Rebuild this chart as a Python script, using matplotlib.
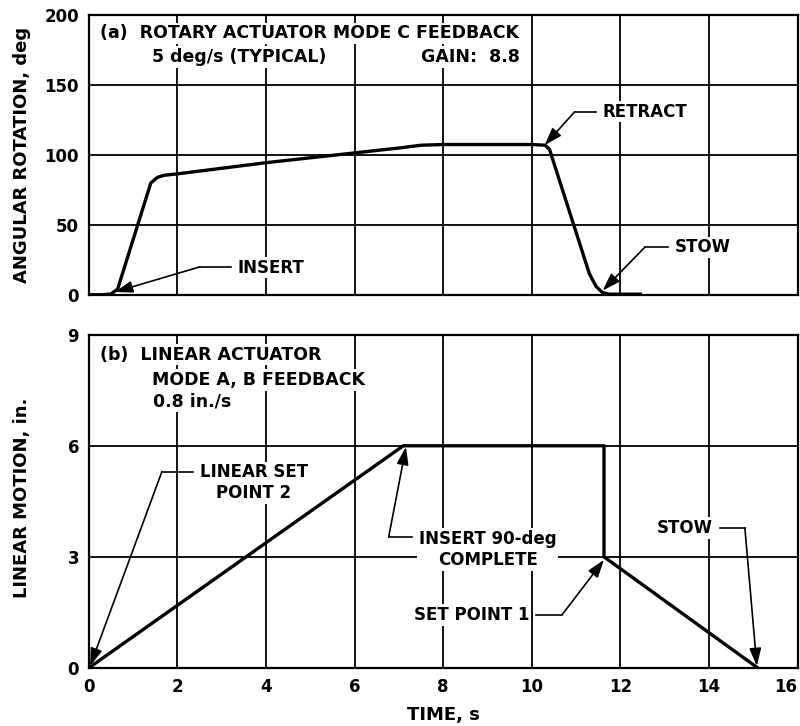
import matplotlib
matplotlib.use("Agg")
import matplotlib.pyplot as plt

# ---- data ----
# (a) rotary actuator, angle vs time
rot_time = [0, 0.3, 0.5, 0.65, 1.4, 1.55, 1.7, 2, 3, 4, 5, 6, 7, 7.5, 8, 9, 10,
            10.3, 10.4, 11.3, 11.45, 11.6, 11.75, 12.45]
rot_angle = [0, 0, 0.5, 4, 80, 84, 85.5, 86.5, 90.5, 94.5, 98, 101.5, 105, 107,
             107.5, 107.5, 107.5, 107, 104, 15, 6, 1.5, 0.4, 0.4]

# (b) linear actuator, stroke vs time
lin_time = [0, 7.1, 11.63, 11.63, 15.1]
lin_motion = [0, 6, 6, 3, 0]

x_ticks = [0, 2, 4, 6, 8, 10, 12, 14, 16]
rot_ticks = [0, 50, 100, 150, 200]
lin_ticks = [0, 3, 6, 9]

# callouts: label, text xy, elbow xy, arrow tip xy, text alignment
rot_notes = [
    ("INSERT", (3.35, 19.5), (2.51, 20), (0.59, 2), "left"),
    ("RETRACT", (11.6, 131), (10.97, 131), (10.29, 107), "left"),
    ("STOW", (13.23, 34), (12.55, 34), (11.6, 3), "left"),
]
lin_notes = [
    ("LINEAR SET\nPOINT 2", (2.5, 5.0), (1.65, 5.3), (0.03, 0.05), "left"),
    ("INSERT 90-deg\nCOMPLETE", (7.45, 3.2), (6.77, 3.54), (7.16, 5.97), "left"),
    ("SET POINT 1", (9.95, 1.43), (10.68, 1.43), (11.63, 2.92), "right"),
    ("STOW", (14.09, 3.78), (14.81, 3.78), (15.08, 0.05), "right"),
]

plt.rcParams['font.family'] = 'DejaVu Sans'
plt.rcParams['font.weight'] = 'bold'
plt.rcParams['font.size'] = 12

fig = plt.figure(figsize=(8, 7.26), dpi=100)
ax1 = fig.add_axes([0.111, 0.594, 0.886, 0.385])
ax2 = fig.add_axes([0.111, 0.080, 0.886, 0.459])

white = dict(boxstyle="square,pad=0.1", fc="white", ec="none")


def style(ax, yticks):
    ax.set_xlim(0, 16)
    ax.set_ylim(yticks[0], yticks[-1])
    ax.set_xticks(x_ticks)
    ax.set_yticks(yticks)
    ax.grid(True, color="black", linewidth=1.3)
    ax.set_axisbelow(True)
    for sp in ax.spines.values():
        sp.set_linewidth(1.6)
    ax.tick_params(length=0, pad=7, labelsize=12)
    for lab in ax.get_xticklabels() + ax.get_yticklabels():
        lab.set_fontweight("bold")


def callout(ax, label, txy, elbow, tip, ha):
    x0 = txy[0] - 0.15 if ha == "left" else txy[0] + 0.15
    ax.plot([x0, elbow[0]], [elbow[1], elbow[1]], color="black", lw=1.2, zorder=4)
    ax.annotate("", xy=tip, xytext=elbow,
                arrowprops=dict(arrowstyle="-|>,head_length=0.9,head_width=0.3",
                                color="black", lw=1.2, shrinkA=0, shrinkB=0),
                zorder=4)
    ax.text(txy[0], txy[1], label, ha=ha, va="center", multialignment="center",
            fontsize=12, fontweight="bold", bbox=white, zorder=5)


# ---- (a) ----
style(ax1, rot_ticks)
ax1.set_xticklabels([])
ax1.plot(rot_time, rot_angle, color="black", lw=2.4, solid_joinstyle="round", zorder=3)
ax1.set_ylabel("ANGULAR ROTATION, deg", fontsize=13, fontweight="bold")
ax1.yaxis.set_label_coords(-0.082, 0.5)
ax1.text(0.25, 187, "(a)  ROTARY ACTUATOR MODE C FEEDBACK", ha="left", va="center",
         fontsize=12.5, bbox=white, zorder=5)
ax1.text(1.42, 170, "5 deg/s (TYPICAL)", ha="left", va="center",
         fontsize=12.5, bbox=white, zorder=5)
ax1.text(9.73, 170, "GAIN:  8.8", ha="right", va="center",
         fontsize=12.5, bbox=white, zorder=5)
for note in rot_notes:
    callout(ax1, *note)

# ---- (b) ----
style(ax2, lin_ticks)
ax2.get_xticklabels()[-1].set_horizontalalignment("right")
ax2.plot(lin_time, lin_motion, color="black", lw=2.4, zorder=3)
ax2.set_ylabel("LINEAR MOTION, in.", fontsize=13, fontweight="bold")
ax2.yaxis.set_label_coords(-0.082, 0.51)
ax2.set_xlabel("TIME, s", fontsize=13, fontweight="bold")
ax2.xaxis.set_label_coords(0.5, -0.115)
ax2.text(0.25, 8.46, "(b)  LINEAR ACTUATOR", ha="left", va="center",
         fontsize=12.5, bbox=white, zorder=5)
ax2.text(1.42, 7.78, "MODE A, B FEEDBACK", ha="left", va="center",
         fontsize=12.5, bbox=white, zorder=5)
ax2.text(1.44, 7.19, "0.8 in./s", ha="left", va="center",
         fontsize=12.5, bbox=white, zorder=5)
for note in lin_notes:
    callout(ax2, *note)

fig.savefig("out.png", dpi=100)
